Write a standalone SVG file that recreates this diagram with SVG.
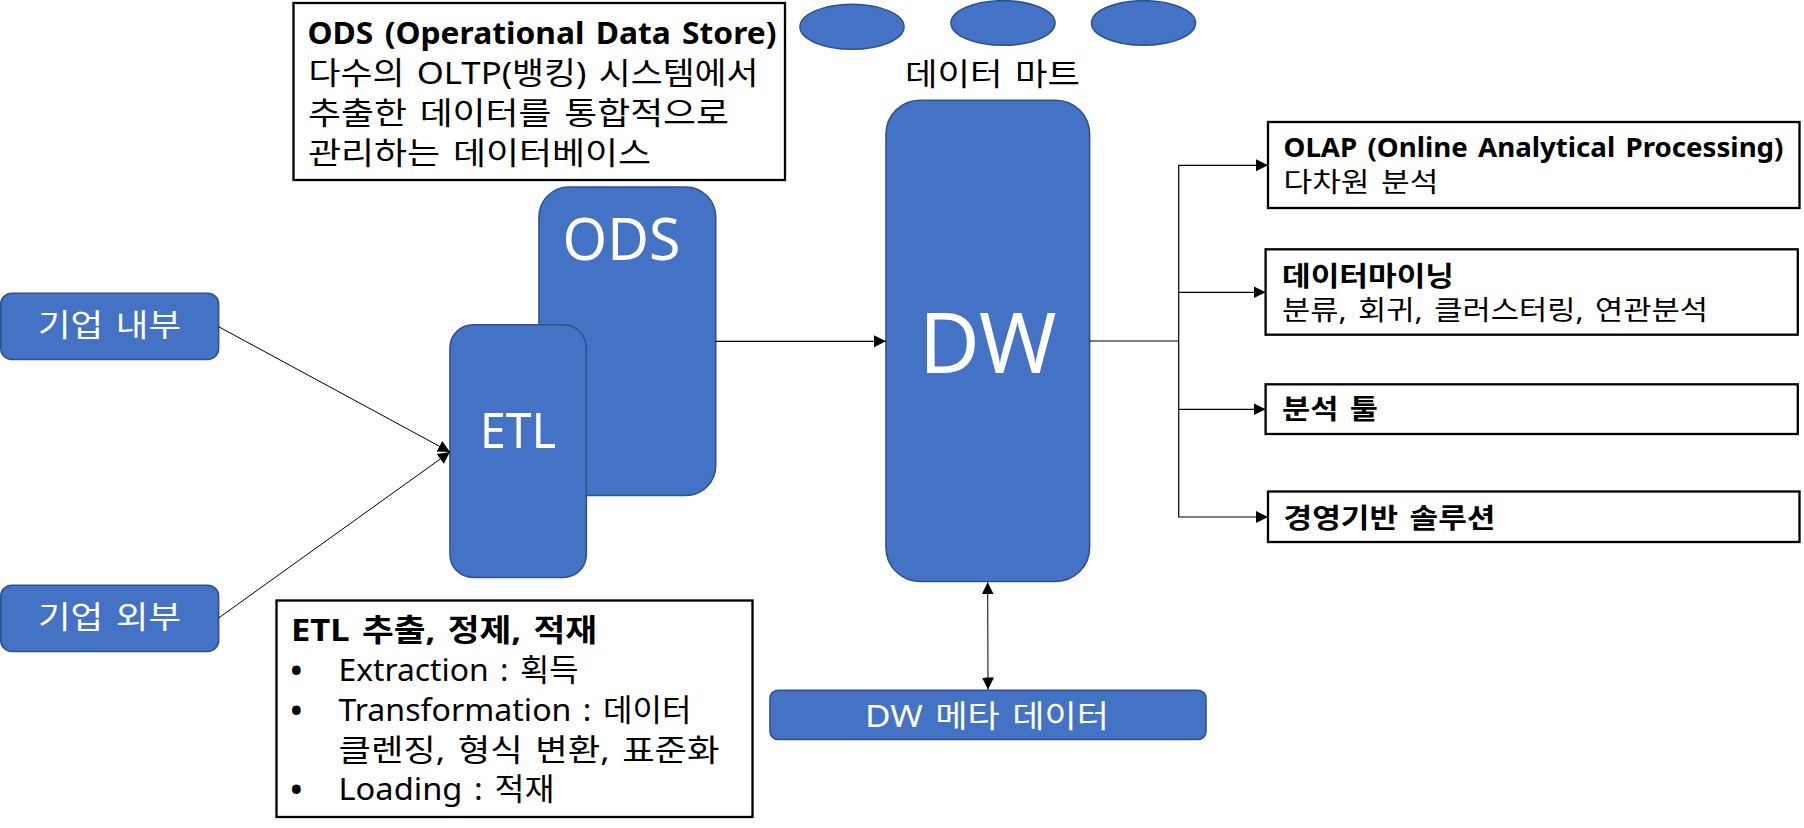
<svg xmlns="http://www.w3.org/2000/svg" width="1804" height="828" viewBox="0 0 1804 828">
<style>
text{font-family:"Noto Sans","Noto Sans CJK KR",sans-serif;fill:#000}
.n{fill:#4472C4;stroke:#2F528F;stroke-width:1.6}
.b{fill:#fff;stroke:#000;stroke-width:2.3}
.w{fill:#fff}
.t30{font-size:31px;word-spacing:3px}
.t26{font-size:27px;word-spacing:3px}
.bd{font-weight:700}
.dot{font-size:31px;font-weight:700}
.c{fill:none;stroke:#000;stroke-width:1.2}
</style>
<defs>
<marker id="ah" markerUnits="userSpaceOnUse" markerWidth="13" markerHeight="13" refX="12" refY="6" orient="auto-start-reverse"><path d="M0 0L12 6L0 12Z" fill="#000"/></marker>
</defs>
<rect width="1804" height="828" fill="#fff"/>
<g id="mart1"><ellipse class="n" cx="852" cy="26.8" rx="52" ry="22.5"/></g>
<g id="mart2"><ellipse class="n" cx="1003" cy="23" rx="52" ry="22.3"/></g>
<g id="mart3"><ellipse class="n" cx="1143.5" cy="23" rx="52" ry="22.3"/></g>
<g id="ods-note"><rect class="b" x="293.5" y="3" width="491.5" height="177"/>
<text class="t30 bd" x="307.5" y="44" textLength="469" lengthAdjust="spacingAndGlyphs">ODS (Operational Data Store)</text>
<text class="t30" x="308.5" y="84" textLength="450" lengthAdjust="spacingAndGlyphs">다수의 OLTP(뱅킹) 시스템에서</text>
<text class="t30" x="308" y="124" textLength="421" lengthAdjust="spacingAndGlyphs">추출한 데이터를 통합적으로</text>
<text class="t30" x="308" y="164" textLength="343" lengthAdjust="spacingAndGlyphs">관리하는 데이터베이스</text></g>
<g id="mart-label"><text class="t30" x="905" y="84.5" textLength="175" lengthAdjust="spacingAndGlyphs">데이터 마트</text></g>
<g id="source-internal"><rect class="n" x="0.8" y="293.2" width="217.8" height="66.3" rx="11"/>
<text class="w t30" x="38" y="336" textLength="143" lengthAdjust="spacingAndGlyphs">기업 내부</text></g>
<g id="source-external"><rect class="n" x="0.8" y="585.2" width="217.8" height="66.3" rx="11"/>
<text class="w t30" x="38" y="628" textLength="143" lengthAdjust="spacingAndGlyphs">기업 외부</text></g>
<g id="ods"><rect class="n" x="539" y="187" width="176.7" height="308.5" rx="30"/>
<text class="w" style="font-size:58px" x="562.5" y="260" textLength="118" lengthAdjust="spacingAndGlyphs">ODS</text></g>
<g id="etl"><rect class="n" x="450" y="324.8" width="136.3" height="252.7" rx="23"/>
<text class="w" style="font-size:50px" x="480" y="448" textLength="76" lengthAdjust="spacingAndGlyphs">ETL</text></g>
<g id="dw"><rect class="n" x="886" y="100.2" width="203.6" height="481.3" rx="34"/>
<text class="w" style="font-size:84px" x="919" y="372.7" textLength="137.5" lengthAdjust="spacingAndGlyphs">DW</text></g>
<g id="dw-meta"><rect class="n" x="770" y="690.2" width="436" height="49.3" rx="8"/>
<text class="w t30" x="865" y="727" textLength="244" lengthAdjust="spacingAndGlyphs">DW 메타 데이터</text></g>
<g id="etl-note"><rect class="b" x="276.5" y="600.5" width="476" height="216.5"/>
<text class="t30 bd" x="291" y="641" textLength="306" lengthAdjust="spacingAndGlyphs">ETL 추출, 정제, 적재</text>
<text class="dot" x="290.5" y="680.5">•</text>
<text class="t30" x="338.5" y="680.5" textLength="240" lengthAdjust="spacingAndGlyphs">Extraction : 획득</text>
<text class="dot" x="290.5" y="720.5">•</text>
<text class="t30" x="338.5" y="720.5" textLength="353" lengthAdjust="spacingAndGlyphs">Transformation : 데이터</text>
<text class="t30" x="338.5" y="760.5" textLength="381" lengthAdjust="spacingAndGlyphs">클렌징, 형식 변환, 표준화</text>
<text class="dot" x="290.5" y="800">•</text>
<text class="t30" x="338.5" y="800" textLength="216" lengthAdjust="spacingAndGlyphs">Loading : 적재</text></g>
<g id="olap"><rect class="b" x="1268" y="122" width="531.5" height="86"/>
<text class="t26 bd" x="1283.5" y="157" textLength="500" lengthAdjust="spacingAndGlyphs">OLAP (Online Analytical Processing)</text>
<text class="t26" x="1283.5" y="191.5" textLength="155" lengthAdjust="spacingAndGlyphs">다차원 분석</text></g>
<g id="mining"><rect class="b" x="1265.6" y="249.3" width="532.2" height="85.4"/>
<text class="t26 bd" x="1282" y="285.5" textLength="172" lengthAdjust="spacingAndGlyphs">데이터마이닝</text>
<text class="t26" x="1282" y="319.5" textLength="426" lengthAdjust="spacingAndGlyphs">분류, 회귀, 클러스터링, 연관분석</text></g>
<g id="tool"><rect class="b" x="1265.6" y="384.3" width="532.2" height="49.7"/>
<text class="t26 bd" x="1282" y="418.5" textLength="96" lengthAdjust="spacingAndGlyphs">분석 툴</text></g>
<g id="bi"><rect class="b" x="1268" y="491.5" width="531.5" height="50.5"/>
<text class="t26 bd" x="1283.5" y="527.5" textLength="212" lengthAdjust="spacingAndGlyphs">경영기반 솔루션</text></g>
<g id="connectors">
<path class="c" style="stroke-width:1" d="M218.6 326.7L450 452" marker-end="url(#ah)"/>
<path class="c" style="stroke-width:1" d="M218.6 618L450 452" marker-end="url(#ah)"/>
<path class="c" d="M715.7 341.3H886" marker-end="url(#ah)"/>
<path class="c" d="M1089.6 341H1178.7"/>
<path class="c" d="M1178.7 292.3V165.3H1268" marker-end="url(#ah)"/>
<path class="c" d="M1178.7 341V292.3H1265.6" marker-end="url(#ah)"/>
<path class="c" d="M1178.7 341V409.3H1265.6" marker-end="url(#ah)"/>
<path class="c" d="M1178.7 409.3V517H1268" marker-end="url(#ah)"/>
<path class="c" style="stroke-width:1" d="M987.7 582.3L988 689.5" marker-start="url(#ah)" marker-end="url(#ah)"/>
</g>
</svg>
